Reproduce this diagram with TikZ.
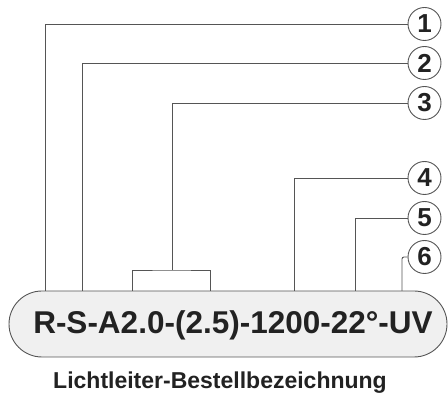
\documentclass[tikz,border=0pt]{standalone}
\usepackage{fontspec}
\setmainfont{Liberation Sans}
\usepackage{tikz}
\usetikzlibrary{positioning}
\definecolor{leadgray}{HTML}{555555}
\definecolor{pillfill}{HTML}{F0F0F0}
\definecolor{inkgray}{HTML}{222222}
\tikzset{
  leader/.style = {draw=leadgray, line width=0.9pt},
  number/.style = {draw=leadgray, circle, line width=0.9pt, fill=white,
                   minimum size=33pt, inner sep=0pt, font=\fontsize{26}{26}\selectfont\bfseries,
                   text=inkgray},
  pill/.style   = {draw=leadgray, line width=0.9pt, fill=pillfill, rectangle,
                   rounded corners=33pt, minimum width=438pt, minimum height=66pt},
  code/.style   = {font=\fontsize{31.5}{31.5}\selectfont\bfseries, text=inkgray, inner sep=0pt},
  caption/.style = {font=\fontsize{23}{23}\selectfont\bfseries, text=inkgray, inner sep=0pt}
}
\begin{document}
\begin{tikzpicture}[x=1pt, y=-1pt]
\useasboundingbox (0,0) rectangle (448,398);

% the order code in its rounded box
\node[pill] (pill) at (228,324) {};
\node[code] (code) at (233,325) {R-S-A2.0-(2.5)-1200-22°-UV};
\node[caption] (cap) at (220,383) {Lichtleiter-Bestellbezeichnung};

% the numbered circles on the right
\node[number] (c1) at (424.5,24)  {1};
\node[number] (c2) at (424.5,63)  {2};
\node[number] (c3) at (424.5,103) {3};
\node[number] (c4) at (424.5,178) {4};
\node[number] (c5) at (424.5,218) {5};
\node[number] (c6) at (424.5,257) {6};

% end points on the top of the box
\coordinate (t1) at (45,291);
\coordinate (t2) at (82,291);
\coordinate (t3) at (172,270);
\coordinate (t4) at (294,291);
\coordinate (t5) at (355,291);
\coordinate (t6) at (402,291);
\coordinate (b1) at (132,291);
\coordinate (b2) at (210,291);

% leader lines
\draw[leader] (c1.west) -| (t1);
\draw[leader] (c2.west) -| (t2);
\draw[leader] (c3.west) -| (t3);
\draw[leader] (b1) |- (t3) -| (b2);
\draw[leader] (c4.west) -| (t4);
\draw[leader] (c5.west) -| (t5);
\draw[leader, rounded corners=2pt] (c6.west) -| (t6);
\end{tikzpicture}
\end{document}
